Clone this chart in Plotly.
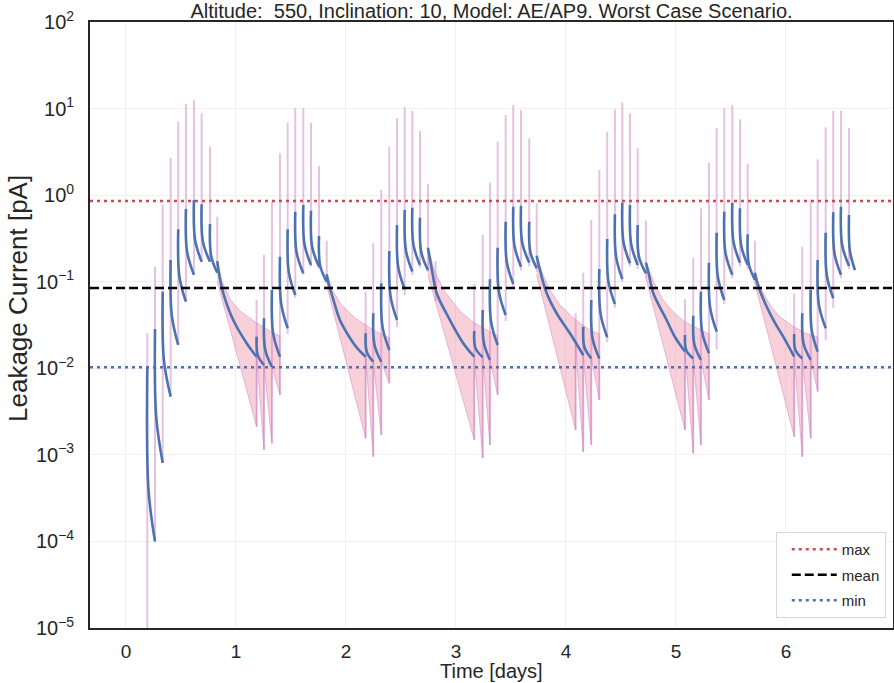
import plotly.graph_objects as go

# ---- data (time in days, current in pA) ----
jump_days = [
    [0.194, 0.264, 0.334, 0.406, 0.475, 0.545, 0.618, 0.688, 0.764, 0.830],
    [1.188, 1.255, 1.327, 1.400, 1.470, 1.539, 1.612, 1.682, 1.755, 1.825],
    [2.179, 2.248, 2.321, 2.394, 2.464, 2.534, 2.603, 2.673, 2.745],
    [3.166, 3.243, 3.309, 3.379, 3.452, 3.521, 3.591, 3.666, 3.734],
    [4.157, 4.230, 4.303, 4.375, 4.445, 4.512, 4.582, 4.652, 4.727],
    [5.082, 5.157, 5.227, 5.300, 5.370, 5.439, 5.512, 5.582, 5.652, 5.718],
    [6.075, 6.148, 6.225, 6.288, 6.361, 6.430, 6.500, 6.573],
]
peak_pa = [
    [0.0104, 0.0284, 0.0767, 0.178, 0.403, 0.692, 0.879, 0.783, 0.465, 0.173],
    [0.0232, 0.0378, 0.0802, 0.194, 0.403, 0.644, 0.769, 0.661, 0.337, 0.122],
    [0.0254, 0.0432, 0.0959, 0.226, 0.452, 0.673, 0.716, 0.548, 0.247],
    [0.0270, 0.0471, 0.107, 0.247, 0.493, 0.735, 0.755, 0.493, 0.200],
    [0.0302, 0.0615, 0.140, 0.311, 0.601, 0.818, 0.769, 0.452, 0.166],
    [0.0242, 0.0405, 0.0767, 0.166, 0.368, 0.644, 0.818, 0.705, 0.353, 0.127],
    [0.0249, 0.0432, 0.0802, 0.178, 0.368, 0.634, 0.735, 0.590],
]
knee_pa = [
    [4.0e-4, 2.8e-3, 0.0125, 0.041, 0.115, 0.221, 0.303, 0.290, 0.200],
    [0.0142, 0.0164, 0.0253, 0.0564, 0.129, 0.222, 0.273, 0.251, 0.153],
    [0.0155, 0.0187, 0.0303, 0.0687, 0.149, 0.232, 0.266, 0.222],
    [0.0171, 0.0199, 0.0343, 0.0771, 0.168, 0.261, 0.282, 0.220],
    [0.0175, 0.0224, 0.0431, 0.101, 0.196, 0.287, 0.273, 0.196],
    [0.0162, 0.0188, 0.0264, 0.0504, 0.115, 0.216, 0.290, 0.264, 0.160],
    [0.0163, 0.0193, 0.0276, 0.0547, 0.118, 0.214, 0.264],
]
end_pa = [
    [1.0e-4, 8.05e-4, 4.70e-3, 0.0186, 0.0588, 0.120, 0.170, 0.170, 0.127],
    [0.0109, 0.0104, 0.0136, 0.0290, 0.0702, 0.125, 0.156, 0.149, 0.100],
    [0.0119, 0.0119, 0.0163, 0.0361, 0.0817, 0.131, 0.156, 0.136],
    [0.0134, 0.0125, 0.0186, 0.0412, 0.0942, 0.149, 0.166, 0.143],
    [0.0130, 0.0130, 0.0228, 0.0553, 0.107, 0.163, 0.156, 0.125],
    [0.0130, 0.0125, 0.0149, 0.0265, 0.0615, 0.120, 0.166, 0.156, 0.105],
    [0.0130, 0.0125, 0.0156, 0.0290, 0.0643, 0.120, 0.152],
]
# long decay after the last pass of each day
tail_days = [
    [0.850, 0.885, 0.975, 1.097, 1.188],
    [1.845, 1.873, 1.945, 2.036, 2.100, 2.179],
    [2.782, 2.825, 2.945, 3.066, 3.166],
    [3.764, 3.825, 3.915, 4.036, 4.157],
    [4.755, 4.794, 4.915, 4.991, 5.082],
    [5.745, 5.825, 5.900, 5.975, 6.075],
    [6.581, 6.627],
]
tail_pa = [
    [0.116, 0.0735, 0.0361, 0.0195, 0.0136],
    [0.0916, 0.0702, 0.0361, 0.0224, 0.0172, 0.0136],
    [0.136, 0.0735, 0.0361, 0.0195, 0.0136],
    [0.136, 0.0735, 0.0432, 0.0254, 0.0142],
    [0.120, 0.0735, 0.0361, 0.0230, 0.0156],
    [0.0916, 0.0514, 0.0334, 0.0232, 0.0136],
    [0.228, 0.136],
]

# worst-case envelope: spikes at each pass
spike_days = [
    [0.194, 0.264, 0.334, 0.406, 0.475, 0.545, 0.618, 0.688, 0.764, 0.830],
    [1.188, 1.255, 1.327, 1.400, 1.470, 1.539, 1.612, 1.682, 1.755, 1.825],
    [2.179, 2.248, 2.321, 2.394, 2.464, 2.534, 2.603, 2.673, 2.745, 2.815],
    [3.166, 3.243, 3.309, 3.379, 3.452, 3.521, 3.591, 3.666, 3.734],
    [4.088, 4.157, 4.230, 4.303, 4.375, 4.445, 4.512, 4.582, 4.652, 4.727],
    [5.082, 5.157, 5.227, 5.300, 5.370, 5.439, 5.512, 5.582, 5.652, 5.718],
    [6.075, 6.148, 6.225, 6.288, 6.361, 6.430, 6.500, 6.573],
]
spike_top_pa = [
    [0.0256, 0.149, 0.769, 2.70, 7.05, 11.3, 12.6, 8.81, 3.63, 0.564],
    [0.0615, 0.204, 0.839, 3.04, 6.87, 10.1, 10.1, 6.87, 2.17, 0.298],
    [0.0767, 0.278, 1.15, 3.63, 7.73, 10.4, 9.44, 5.51, 1.35, 0.173],
    [0.0942, 0.347, 1.39, 4.14, 8.43, 11.0, 9.62, 4.54, 0.805],
    [0.0432, 0.127, 0.516, 1.95, 5.41, 9.8, 11.7, 8.81, 3.48, 0.507],
    [0.0627, 0.189, 0.705, 2.37, 5.92, 10.1, 11.0, 7.52, 2.29, 0.298],
    [0.0735, 0.254, 0.879, 2.59, 6.08, 9.44, 9.44, 5.92],
]
spike_bottom_pa = [
    [1e-6, 1.0e-4, 8.05e-4, 4.7e-3, 0.0186, 0.0588, 0.120, 0.170, 0.170, 0.127],
    [2.11e-3, 1.14e-3, 1.36e-3, 4.91e-3, 0.025, 0.065, 0.12, 0.15, 0.14, 0.095],
    [1.55e-3, 9.5e-4, 1.69e-3, 6.7e-3, 0.03, 0.07, 0.12, 0.145, 0.13, 0.06],
    [1.49e-3, 9.2e-4, 1.30e-3, 4.91e-3, 0.035, 0.085, 0.135, 0.15, 0.13],
    [1.94e-3, 1.08e-3, 1.30e-3, 4.3e-3, 0.02, 0.05, 0.1, 0.15, 0.14, 0.11],
    [1.94e-3, 1.04e-3, 1.30e-3, 4.3e-3, 0.0165, 0.055, 0.11, 0.15, 0.14, 0.095],
    [1.62e-3, 9.5e-4, 1.55e-3, 5.4e-3, 0.0212, 0.05, 0.11, 0.14],
]

# envelope band during the quiet part of each day
band_up_days = [
    [0.830, 0.873, 0.945, 1.036, 1.188, 1.309, 1.400],
    [1.825, 1.882, 1.945, 2.082, 2.179, 2.264, 2.394],
    [2.745, 2.809, 2.900, 3.036, 3.166, 3.309, 3.379],
    [3.734, 3.791, 3.855, 3.945, 4.088, 4.218, 4.303],
    [4.727, 4.794, 4.882, 4.976, 5.082, 5.218, 5.300],
    [5.718, 5.764, 5.855, 5.945, 6.075, 6.173, 6.288],
]
band_up_pa = [
    [0.173, 0.102, 0.0631, 0.0459, 0.0334, 0.0270, 0.0236],
    [0.122, 0.0781, 0.0568, 0.0381, 0.0316, 0.0270, 0.0225],
    [0.247, 0.129, 0.0760, 0.0459, 0.0334, 0.0262, 0.0236],
    [0.200, 0.120, 0.0802, 0.0538, 0.0361, 0.0277, 0.0249],
    [0.166, 0.102, 0.0615, 0.0447, 0.0343, 0.0277, 0.0249],
    [0.127, 0.0869, 0.0538, 0.0391, 0.0300, 0.0256, 0.0230],
]
band_lo_days = [
    [0.830, 1.188, 1.188, 1.255, 1.255, 1.327, 1.327, 1.400],
    [1.825, 2.179, 2.179, 2.248, 2.248, 2.321, 2.321, 2.394],
    [2.745, 3.166, 3.166, 3.243, 3.243, 3.309, 3.309, 3.379],
    [3.734, 4.088, 4.088, 4.157, 4.157, 4.230, 4.230, 4.303],
    [4.727, 5.082, 5.082, 5.157, 5.157, 5.227, 5.227, 5.300],
    [5.718, 6.075, 6.075, 6.148, 6.148, 6.225, 6.225, 6.288],
]
band_lo_pa = [
    [0.10, 2.11e-3, 0.0136, 1.14e-3, 0.0109, 1.36e-3, 0.0104, 4.91e-3],
    [0.09, 1.55e-3, 0.0136, 9.5e-4, 0.0119, 1.69e-3, 0.0119, 6.7e-3],
    [0.12, 1.49e-3, 0.0136, 9.2e-4, 0.0134, 1.30e-3, 0.0125, 4.91e-3],
    [0.12, 1.94e-3, 0.0186, 1.08e-3, 0.0142, 1.30e-3, 0.0130, 4.3e-3],
    [0.11, 1.94e-3, 0.0156, 1.04e-3, 0.0130, 1.30e-3, 0.0125, 4.3e-3],
    [0.095, 1.62e-3, 0.0136, 9.5e-4, 0.0130, 1.55e-3, 0.0125, 5.4e-3],
]

max_pa = 0.855
mean_pa = 0.0845
min_pa = 0.0103

x_ticks = [0, 1, 2, 3, 4, 5, 6, 7]
y_ticks = [1e-5, 1e-4, 1e-3, 1e-2, 1e-1, 1, 10, 100]
y_tick_labels = ["10<sup>−5</sup>", "10<sup>−4</sup>", "10<sup>−3</sup>", "10<sup>−2</sup>",
                 "10<sup>−1</sup>", "10<sup>0</sup>", "10<sup>1</sup>", "10<sup>2</sup>"]

title = "Altitude:  550, Inclination: 10, Model: AE/AP9. Worst Case Scenario."
x_label = "Time [days]"
y_label = "Leakage Current [pA]"

# ---- styling ----
BLUE = "#4C72B0"
RED = "#C44E52"
TXT = "#262626"
FILL = "rgba(235,120,150,0.35)"
EDGE = "rgba(200,120,190,0.45)"
KNEE_FRAC = 0.15
X_RANGE = [-0.327, 6.973]
FONT = "Liberation Sans, Arial, sans-serif"

# blue current segments (one per pass, separated by gaps)
seg_x, seg_y = [], []
for c in range(len(jump_days)):
    days, peaks, knees, ends = jump_days[c], peak_pa[c], knee_pa[c], end_pa[c]
    for j in range(len(days) - 1):
        dt = days[j + 1] - days[j]
        seg_x += [days[j], days[j] + KNEE_FRAC * dt, days[j + 1], None]
        seg_y += [peaks[j], knees[j], ends[j], None]
    seg_x += [days[-1]] + tail_days[c] + [None]
    seg_y += [peaks[-1]] + tail_pa[c] + [None]

spk_x, spk_y = [], []
for c in range(len(spike_days)):
    for t, lo, hi in zip(spike_days[c], spike_bottom_pa[c], spike_top_pa[c]):
        spk_x += [t, t, None]
        spk_y += [lo, hi, None]

band_x, band_y = [], []
for ud, uv, ld, lv in zip(band_up_days, band_up_pa, band_lo_days, band_lo_pa):
    band_x += ud + ld[::-1] + [None]
    band_y += uv + lv[::-1] + [None]

fig = go.Figure()
fig.add_trace(go.Scatter(x=band_x, y=band_y, mode="lines", fill="toself",
                         fillcolor=FILL, line=dict(color=EDGE, width=1),
                         showlegend=False, hoverinfo="skip"))
fig.add_trace(go.Scatter(x=spk_x, y=spk_y, mode="lines",
                         line=dict(color=EDGE, width=2),
                         showlegend=False, hoverinfo="skip"))
fig.add_trace(go.Scatter(x=seg_x, y=seg_y, mode="lines",
                         line=dict(color=BLUE, width=2.6, shape="spline", smoothing=1),
                         showlegend=False))

for name, val, color, dash in [("max", max_pa, RED, "3px,4px"),
                               ("mean", mean_pa, "black", "9px,4px"),
                               ("min", min_pa, BLUE, "3px,4px")]:
    fig.add_trace(go.Scatter(x=X_RANGE, y=[val, val], mode="lines", name=name,
                             legendgroup=name,
                             line=dict(color=color, width=2.5, dash=dash)))

fig.update_layout(
    width=894, height=683,
    margin=dict(l=90, r=1, t=22, b=55, autoexpand=False),
    paper_bgcolor="white", plot_bgcolor="white",
    font=dict(family=FONT, color=TXT, size=15),
    title=dict(text=title, x=0.5, xref="paper", y=1 - 11 / 683, yref="container",
               yanchor="middle", xanchor="center", font=dict(size=20)),
    legend=dict(x=0.991, xanchor="right", y=0.0165, yanchor="bottom",
                bgcolor="white", bordercolor="#d6d6d6", borderwidth=1,
                font=dict(size=15), tracegroupgap=3, indentation=10,
                itemwidth=45),
    annotations=[
        dict(text=x_label, xref="paper", yref="paper", x=0.5, y=-43 / 606,
             xanchor="center", yanchor="middle", showarrow=False,
             font=dict(size=20)),
        dict(text=y_label, xref="paper", yref="paper", x=-72 / 803, y=329 / 606,
             xanchor="center", yanchor="middle", showarrow=False, textangle=-90,
             font=dict(size=26)),
    ],
)
fig.update_xaxes(range=X_RANGE, tickvals=x_ticks, showgrid=True, gridcolor="#f0f0f0",
                 zeroline=False, showline=True, linecolor=TXT, linewidth=1.8,
                 mirror=True, ticks="", tickfont=dict(size=19), ticklabelstandoff=5,
                 automargin=False)
fig.update_yaxes(type="log", range=[-5, 2], tickvals=y_ticks, ticktext=y_tick_labels,
                 showgrid=True, gridcolor="#f0f0f0", zeroline=False, showline=True,
                 linecolor=TXT, linewidth=1.8, mirror=True, ticks="",
                 tickfont=dict(size=20), ticklabelstandoff=10, automargin=False)

# the page's default body margin would push the figure off the window
fig.write_html("out.html", config={"displayModeBar": False},
               post_script="document.body.style.margin='0';document.body.style.overflow='hidden';")
